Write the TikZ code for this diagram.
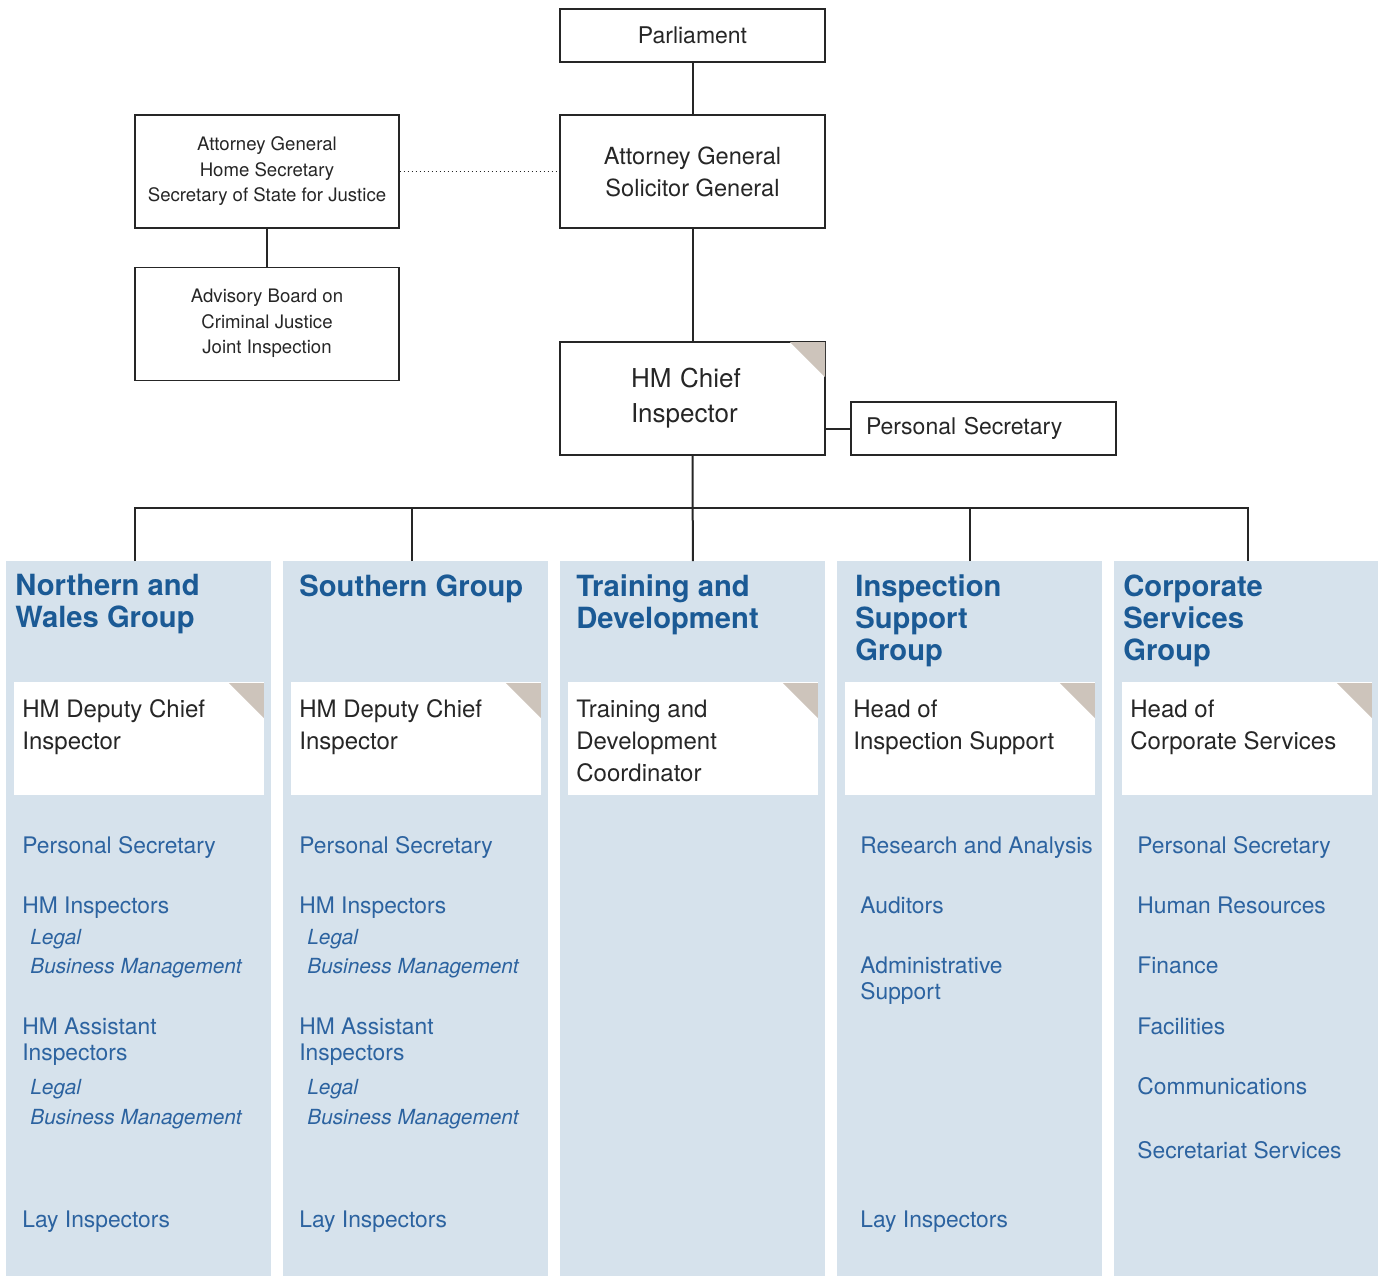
\documentclass[tikz,border=0pt]{standalone}
\usepackage{fontspec}
\setmainfont{TeX Gyre Heros}
\usetikzlibrary{positioning}
\definecolor{groupbg}{HTML}{D6E2EC}
\definecolor{grouphead}{HTML}{1B5A95}
\definecolor{groupitem}{HTML}{2C63A0}
\definecolor{tabgrey}{HTML}{CDC4BB}
\newcommand{\dogear}[1]{\fill[tabgrey] ([xshift=-18pt,yshift=-0.5pt]#1.north east) -- ([xshift=-0.5pt,yshift=-0.5pt]#1.north east) -- ([xshift=-0.5pt,yshift=-18pt]#1.north east) -- cycle;}

\begin{document}
\begin{tikzpicture}[x=0.5pt, y=-0.5pt]

        \tikzstyle{office} = [rectangle, draw=black!85, line width=1pt, minimum width=132.5pt,
            inner sep=0pt, align=center, text=black!85]
        \tikzstyle{minister} = [rectangle, draw=black!85, line width=0.6pt, minimum width=132pt,
            minimum height=56.5pt, inner sep=0pt, align=center, text=black!85,
            font=\fontsize{9.3}{12.75}\selectfont]
        \tikzstyle{group} = [rectangle, fill=groupbg, minimum width=132.5pt, minimum height=357.5pt,
            anchor=north west, inner sep=0pt]
        \tikzstyle{grouptitle} = [anchor=north west, inner sep=0pt, align=left, text=grouphead,
            font=\fontsize{14.6}{16}\selectfont\bfseries]
        \tikzstyle{headbox} = [rectangle, fill=white, minimum width=125pt, minimum height=56.5pt,
            anchor=north west, inner sep=0pt]
        \tikzstyle{headtext} = [anchor=north west, inner sep=0pt, align=left, text=black!85,
            font=\fontsize{12}{16}\selectfont]
        \tikzstyle{member} = [anchor=north west, inner sep=0pt, align=left, text=groupitem,
            font=\fontsize{11.4}{13}\selectfont]
        \tikzstyle{branch} = [member, font=\fontsize{10.4}{13}\selectfont\itshape]
        \tikzstyle{link} = [draw=black!85, line width=1pt]

        \useasboundingbox (0,0) rectangle (1378,1276);

        % top of the chart
        \node[office, minimum height=26.5pt, font=\fontsize{11.5}{14}\selectfont]  (parliament) at (692.5,35.5)  {Parliament};
        \node[office, minimum height=56.5pt, font=\fontsize{11.8}{16}\selectfont]  (attorney)   at (692.5,171.5) {Attorney General\\Solicitor General};
        \node[office, minimum height=56.5pt, text width=61.5pt, inner xsep=35.5pt, align=left,
              font=\fontsize{13}{17.5}\selectfont]                                 (chief)      at (692.5,398.5) {HM Chief\\Inspector};
        \node[office, minimum height=26.5pt, text width=117pt, inner xsep=7.5pt, align=left,
              font=\fontsize{11.5}{14}\selectfont]                                 (psec)       at (983,428.5)   {Personal Secretary};
        \node[minister]                                                            (ministers)  at (267,171.5)   {Attorney General\\Home Secretary\\Secretary of State for Justice};
        \node[minister, below=19pt of ministers]                                   (advisory)                    {Advisory Board on\\Criminal Justice\\Joint Inspection};
        \dogear{chief}

        \draw[link] (parliament) -- (attorney);
        \draw[link] (attorney)   -- (chief);
        \draw[link] (chief.east |- psec.west) -- (psec.west);
        \draw[line width=0.6pt, draw=black!85] (ministers) -- (advisory);
        \draw[dash pattern=on 0.8pt off 1.2pt, line width=0.7pt, draw=black!85] (ministers.east) -- (attorney.west);

        % groups
        \node[group] (northern)  at (6,561)    {};
        \node[group] (southern)  at (283,561)  {};
        \node[group] (training)  at (560,561)  {};
        \node[group] (support)   at (837,561)  {};
        \node[group] (corporate) at (1114,561) {};

        \coordinate (bus) at (692.5,508);
        \draw[link] ([xshift=-1.75pt]northern.north) |- (bus) -| ([xshift=0.5pt]corporate.north);
        \draw[link] (chief.south)    -- (training.north);
        \draw[link] ([xshift=-1.75pt]southern.north) -- ([xshift=-1.75pt]southern.north |- bus);
        \draw[link] (support.north)  -- (support.north |- bus);

        \node[grouptitle] (northerntitle)  at (15,574)   {Northern and\\Wales Group};
        \node[grouptitle] (southerntitle)  at (299,574)  {Southern Group};
        \node[grouptitle] (trainingtitle)  at (576,574)  {Training and\\Development};
        \node[grouptitle] (supporttitle)   at (855,574)  {Inspection\\Support\\Group};
        \node[grouptitle] (corporatetitle) at (1123,574) {Corporate\\Services\\Group};

        \node[headbox] (northernhead)  at (14,682)   {};
        \node[headbox] (southernhead)  at (291,682)  {};
        \node[headbox] (traininghead)  at (568,682)  {};
        \node[headbox] (supporthead)   at (845,682)  {};
        \node[headbox] (corporatehead) at (1122,682) {};
        \dogear{northernhead} \dogear{southernhead} \dogear{traininghead}
        \dogear{supporthead} \dogear{corporatehead}

        \node[headtext] at (22,699.5)   {HM Deputy Chief\\Inspector};
        \node[headtext] at (299,699.5)  {HM Deputy Chief\\Inspector};
        \node[headtext] at (576,699.5)  {Training and\\Development\\Coordinator};
        \node[headtext] at (853,699.5)  {Head of\\Inspection Support};
        \node[headtext] at (1130,699.5) {Head of\\Corporate Services};

        % Northern and Wales
        \node[member] (nsec)    at (22,836)    {Personal Secretary};
        \node[member] (ninsp)   at (22,896)    {HM Inspectors};
        \node[branch] (nlegal)  at (30,929)    {Legal};
        \node[branch] (nbus)    at (30,958)    {Business Management};
        \node[member] (nasst)   at (22,1017)   {HM Assistant\\Inspectors};
        \node[branch] (nalegal) at (30,1079)   {Legal};
        \node[branch] (nabus)   at (30,1109)   {Business Management};
        \node[member] (nlay)    at (22,1210)   {Lay Inspectors};

        % Southern
        \node[member] (ssec)    at (299,836)    {Personal Secretary};
        \node[member] (sinsp)   at (299,896)    {HM Inspectors};
        \node[branch] (slegal)  at (307,929)    {Legal};
        \node[branch] (sbus)    at (307,958)    {Business Management};
        \node[member] (sasst)   at (299,1017)   {HM Assistant\\Inspectors};
        \node[branch] (salegal) at (307,1079)   {Legal};
        \node[branch] (sabus)   at (307,1109)   {Business Management};
        \node[member] (slay)    at (299,1210)   {Lay Inspectors};

        % Inspection Support
        \node[member] (research) at (860,836)  {Research and Analysis};
        \node[member] (auditors) at (860,896)  {Auditors};
        \node[member] (admin)    at (860,956)  {Administrative\\Support};
        \node[member] (ilay)     at (860,1210) {Lay Inspectors};

        % Corporate Services
        \node[member] (csec)    at (1137,836)  {Personal Secretary};
        \node[member] (hr)      at (1137,896)  {Human Resources};
        \node[member] (finance) at (1137,956)  {Finance};
        \node[member] (facil)   at (1137,1017) {Facilities};
        \node[member] (comms)   at (1137,1077) {Communications};
        \node[member] (secret)  at (1137,1141) {Secretariat Services};

      \end{tikzpicture}
\end{document}
